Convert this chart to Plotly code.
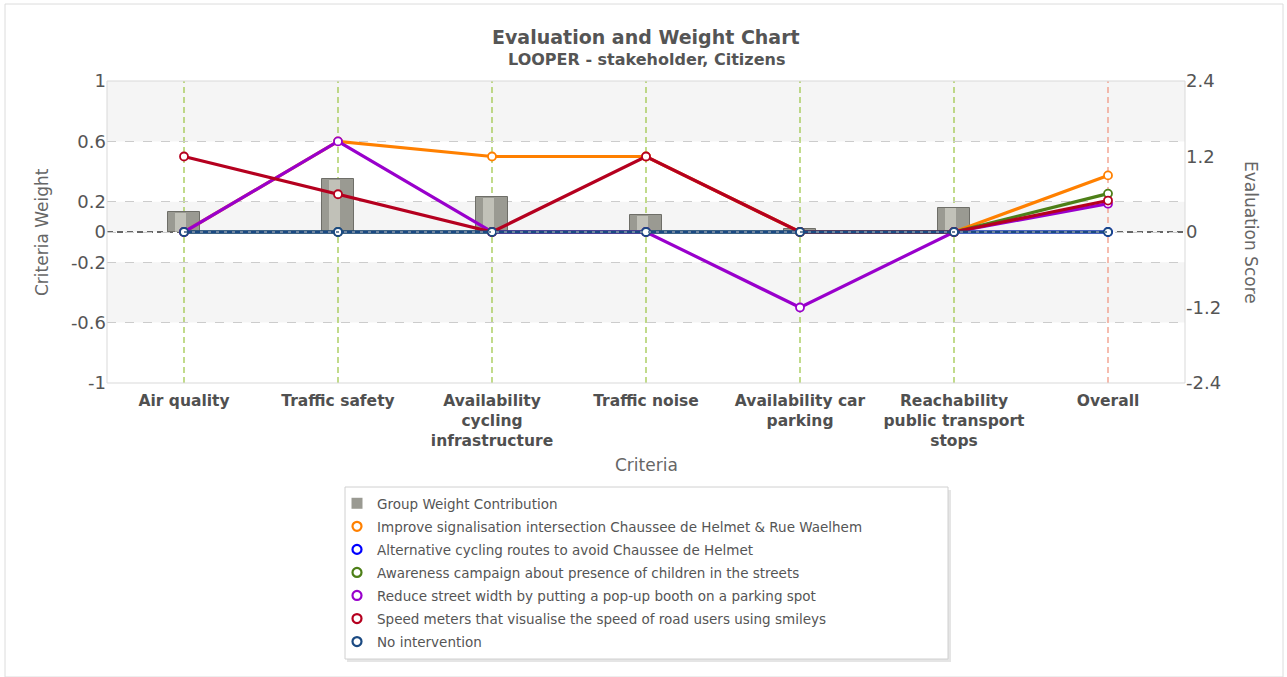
import plotly.graph_objects as go

categories = ["Air quality", "Traffic safety", "Availability cycling infrastructure",
              "Traffic noise", "Availability car parking",
              "Reachability public transport stops", "Overall"]
tick_labels = ["Air quality", "Traffic safety", "Availability<br>cycling<br>infrastructure",
               "Traffic noise", "Availability car<br>parking",
               "Reachability<br>public transport<br>stops", "Overall"]

group_weights = [0.13, 0.35, 0.23, 0.11, 0.02, 0.16, None]

series_names = [
    "Improve signalisation intersection Chaussee de Helmet & Rue Waelhem",
    "Alternative cycling routes to avoid Chaussee de Helmet",
    "Awareness campaign about presence of children in the streets",
    "Reduce street width by putting a pop-up booth on a parking spot",
    "Speed meters that visualise the speed of road users using smileys",
    "No intervention",
]
improve_signalisation = [0, 1.44, 1.2, 1.2, 0, 0, 0.9]
alternative_routes = [0, 0, 0, 0, 0, 0, 0]
awareness_campaign = [0, 0, 0, 0, 0, 0, 0.61]
reduce_street_width = [0, 1.44, 0, 0, -1.2, 0, 0.45]
speed_meters = [1.2, 0.6, 0, 1.2, 0, 0, 0.5]
no_intervention = [0, 0, 0, 0, 0, 0, 0]
series_values = [improve_signalisation, alternative_routes, awareness_campaign,
                 reduce_street_width, speed_meters, no_intervention]
series_colors = ["#ff8000", "#0000ff", "#4d7f17", "#9900cc", "#b5001f", "#1b4a82"]

weight_ticks = [-1, -0.6, -0.2, 0, 0.2, 0.6, 1]
weight_tick_text = ["-1", "-0.6", "-0.2", "0", "0.2", "0.6", "1"]
score_ticks = [-2.4, -1.2, 0, 1.2, 2.4]
score_tick_text = ["-2.4", "-1.2", "0", "1.2", "2.4"]

FONT = "DejaVu Sans"
W, H = 1287, 677
L, R, T, B = 107, 1185, 81, 383
PW, PH = R - L, B - T


def px(x):
    return (x - L) / PW


def py(y):
    return (B - y) / PH


fig = go.Figure()

# bars (weights)
fig.add_trace(go.Bar(
    x=categories, y=group_weights, yaxis="y", width=0.21,
    marker=dict(color="#9a9a92", line=dict(color="#6e6e68", width=1)),
    name="Group Weight Contribution", showlegend=False, hoverinfo="skip"))
# highlight stripe on bars for cylinder look
fig.add_trace(go.Bar(
    x=categories, y=[None if v is None else v - 0.004 for v in group_weights],
    yaxis="y", width=0.07, offset=-0.06,
    marker=dict(color="rgba(225,225,215,0.55)", line=dict(width=0)),
    showlegend=False, hoverinfo="skip"))

# lines (scores)
for name, vals, col in zip(series_names, series_values, series_colors):
    fig.add_trace(go.Scatter(
        x=categories, y=vals, yaxis="y2", mode="lines+markers", name=name,
        line=dict(color=col, width=3.2),
        marker=dict(symbol="circle", size=8, color="white",
                    line=dict(color=col, width=1.8)),
        showlegend=False))
# dotted pattern on the no-intervention line
fig.add_trace(go.Scatter(
    x=categories, y=no_intervention, yaxis="y2", mode="lines",
    line=dict(color="#6f86a0", width=2, dash="3px,5px"),
    showlegend=False, hoverinfo="skip"))

# legend entries
fig.add_trace(go.Scatter(
    x=[None], y=[None], mode="markers", name="Group Weight Contribution",
    marker=dict(symbol="square", size=11, color="#9a9a92"),
    legendgroup="g0", showlegend=True))
for i, (name, col) in enumerate(zip(series_names, series_colors)):
    fig.add_trace(go.Scatter(
        x=[None], y=[None], mode="markers", name=name,
        marker=dict(symbol="circle", size=9, color="white", line=dict(color=col, width=2.2)),
        legendgroup=f"g{i+1}", showlegend=True))

shapes = []
# alternate bands
bands = [(0.6, 1, "#f5f5f5"), (0, 0.2, "#f5f5f5"), (-0.6, -0.2, "#f5f5f5")]
for y0, y1, c in bands:
    shapes.append(dict(type="rect", xref="paper", yref="y", x0=0, x1=1, y0=y0, y1=y1,
                       fillcolor=c, line=dict(width=0), layer="below"))
# vertical category lines
for c in categories:
    col = "#f0907a" if c == "Overall" else "#99c440"
    shapes.append(dict(type="line", xref="x", yref="paper", x0=c, x1=c, y0=0, y1=1,
                       line=dict(color=col, width=1.2, dash="6px,4px"), layer="between"))
# zero line
shapes.append(dict(type="line", xref="paper", yref="y", x0=0, x1=1, y0=0, y1=0,
                   line=dict(color="#666666", width=2, dash="6px,4px"), layer="between"))
# plot border
shapes.append(dict(type="rect", xref="paper", yref="paper", x0=0, x1=1, y0=0, y1=1,
                   line=dict(color="#d9d9d9", width=1), layer="above"))
# outer border
shapes.append(dict(type="rect", xref="paper", yref="paper", x0=px(5), x1=px(1283),
                   y0=py(677), y1=py(4), line=dict(color="#dcdcdc", width=1), layer="below"))
# legend box shadow + box
shapes.append(dict(type="rect", xref="paper", yref="paper", x0=px(347), x1=px(951),
                   y0=py(662), y1=py(490), fillcolor="rgba(0,0,0,0.10)",
                   line=dict(width=0), layer="above"))
shapes.append(dict(type="rect", xref="paper", yref="paper", x0=px(345), x1=px(948),
                   y0=py(659), y1=py(487), fillcolor="white",
                   line=dict(color="#d0d0d0", width=1), layer="above"))

annotations = [
    dict(text="<b>Evaluation and Weight Chart</b>", x=px(646), y=py(37), xref="paper", yref="paper",
         showarrow=False, font=dict(family=FONT, size=19, color="#555555"), xanchor="center", yanchor="middle"),
    dict(text="<b>LOOPER - stakeholder, Citizens</b>", x=px(646), y=py(60), xref="paper", yref="paper",
         showarrow=False, font=dict(family=FONT, size=16, color="#555555"), xanchor="center", yanchor="middle"),
    dict(text="Criteria Weight", x=px(42), y=py(232), xref="paper", yref="paper", textangle=-90,
         showarrow=False, font=dict(family=FONT, size=17, color="#666666"), xanchor="center", yanchor="middle"),
    dict(text="Evaluation Score", x=px(1251), y=py(232), xref="paper", yref="paper", textangle=90,
         showarrow=False, font=dict(family=FONT, size=17, color="#666666"), xanchor="center", yanchor="middle"),
    dict(text="Criteria", x=px(646), y=py(465), xref="paper", yref="paper",
         showarrow=False, font=dict(family=FONT, size=17, color="#666666"), xanchor="center", yanchor="middle"),
]

fig.update_layout(
    width=W, height=H,
    margin=dict(l=L, r=W - R, t=T, b=H - B),
    paper_bgcolor="white", plot_bgcolor="white",
    font=dict(family=FONT, color="#555555"),
    bargap=0, barmode="overlay",
    xaxis=dict(type="category", categoryorder="array", categoryarray=categories,
               tickvals=categories, ticktext=tick_labels, range=[-0.5, 6.5],
               showgrid=False, showline=False, ticks="", zeroline=False,
               ticklabelstandoff=6,
               tickfont=dict(family=FONT, size=15.5, color="#505050", weight="bold")),
    yaxis=dict(range=[-1, 1], tickvals=weight_ticks, ticktext=weight_tick_text,
               showgrid=True, gridcolor="#cccccc", griddash="dash", gridwidth=1,
               zeroline=False, showline=False, ticks="",
               tickfont=dict(family=FONT, size=18, color="#555555")),
    yaxis2=dict(range=[-2.4, 2.4], tickvals=score_ticks, ticktext=score_tick_text,
                overlaying="y", side="right", showgrid=False, zeroline=False,
                showline=False, ticks="",
                tickfont=dict(family=FONT, size=18, color="#555555")),
    shapes=shapes,
    annotations=annotations,
    showlegend=True,
    legend=dict(x=px(337), y=py(488), xanchor="left", yanchor="top",
                bgcolor="rgba(0,0,0,0)", borderwidth=0,
                font=dict(family=FONT, size=13.5, color="#555555"),
                tracegroupgap=2.5, traceorder="grouped", itemclick=False),
)

fig.write_html("out.html")
